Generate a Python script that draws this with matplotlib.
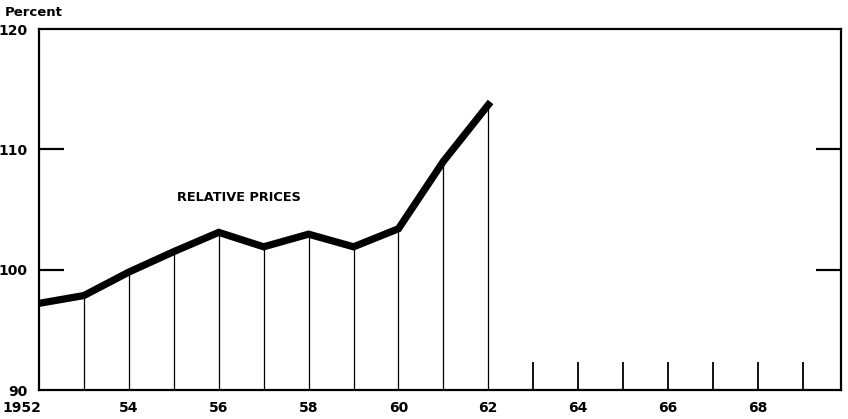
import matplotlib
matplotlib.use("Agg")
import matplotlib.pyplot as plt
import matplotlib.transforms as mtransforms

years = [1952, 1953, 1954, 1955, 1956, 1957, 1958, 1959, 1960, 1961, 1962]
relative_prices = [97.2, 97.85, 99.8, 101.5, 103.1, 101.9, 102.95, 101.9, 103.4, 109.0, 113.7]
future_years = [1963, 1964, 1965, 1966, 1967, 1968, 1969]
future_tick_top = 92.3
xtick_pos = [1952, 1954, 1956, 1958, 1960, 1962, 1964, 1966, 1968]
xtick_labels = ["1952", "54", "56", "58", "60", "62", "64", "66", "68"]
ytick_pos = [90, 100, 110, 120]
ytick_labels = ["90", "100", "110", "120"]

plt.rcParams['font.family'] = ['DejaVu Sans']

fig = plt.figure(figsize=(8.48, 4.19), dpi=100)
ax = fig.add_axes([39/848, 1-390/419, (841-39)/848, (390-29)/419])
ax.set_xlim(1952, 1969.85)
ax.set_ylim(90, 120)

ax.vlines(years[1:], 90, relative_prices[1:], color='black', lw=0.9)
ax.vlines(future_years, 90, future_tick_top, color='black', lw=1.3)
ax.plot(years, relative_prices, color='black', lw=5.2, solid_joinstyle='miter', zorder=3)

for s in ax.spines.values():
    s.set_linewidth(1.6)

ax.set_xticks(xtick_pos)
ax.set_xticklabels(xtick_labels, fontweight='bold', fontsize=10)
ax.tick_params(axis='x', length=0, pad=8)
ax.set_yticks(ytick_pos)
ax.set_yticklabels(ytick_labels, fontweight='bold', fontsize=10)
ax.tick_params(axis='y', length=0, pad=8)

fig.canvas.draw()
first = ax.get_xticklabels()[0]
first.set_transform(first.get_transform() + mtransforms.ScaledTranslation(-17/100, 0, fig.dpi_scale_trans))

for v in [100, 110]:
    ax.plot([1952, 1952.55], [v, v], color='black', lw=1.6, solid_capstyle='butt')
    ax.plot([1969.3, 1969.85], [v, v], color='black', lw=1.6, solid_capstyle='butt')

ax.text(1956.45, 106.0, "RELATIVE PRICES", fontweight='bold', fontsize=9.3, ha='center', va='center')
fig.text(5/848, 1-13/419, "Percent", fontweight='bold', fontsize=9.5, ha='left', va='center')

fig.savefig("out.png", dpi=100)
